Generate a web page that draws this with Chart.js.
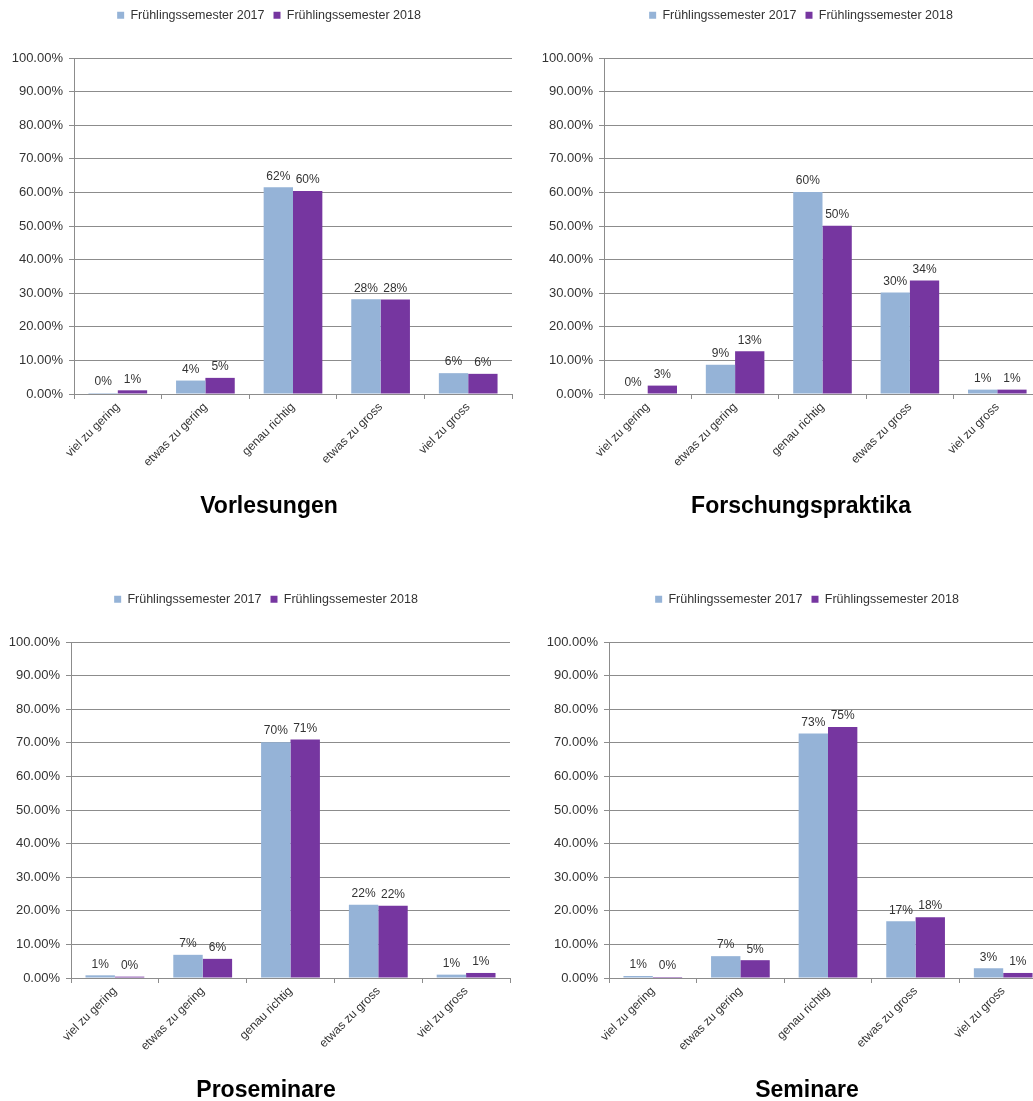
<!DOCTYPE html>
<html>
<head>
<meta charset="utf-8">
<script src="https://cdn.jsdelivr.net/npm/chart.js@4.4.1/dist/chart.umd.min.js"></script>
<style>
  html, body { margin: 0; padding: 0; background: #ffffff; overflow: hidden; width: 1033px; height: 1101px; }
  canvas { position: absolute; }
</style>
</head>
<body>
<canvas id="c1" width="538" height="530" style="left:0px;top:0px"></canvas>
<canvas id="c2" width="538" height="530" style="left:532px;top:0px"></canvas>
<canvas id="c3" width="532" height="530" style="left:0px;top:584px"></canvas>
<canvas id="c4" width="540" height="530" style="left:537px;top:584px"></canvas>
<script>
// ---------- data ----------
const categories = ['viel zu gering', 'etwas zu gering', 'genau richtig', 'etwas zu gross', 'viel zu gross'];
const seriesNames = ['Frühlingssemester 2017', 'Frühlingssemester 2018'];
const chartTitles = ['Vorlesungen', 'Forschungspraktika', 'Proseminare', 'Seminare'];

const vorlesungen2017 = [0.3, 4.0, 61.5, 28.2, 6.2];
const vorlesungen2018 = [1.1, 4.8, 60.4, 28.1, 6.0];
const vorlesungenLabels2017 = ['0%', '4%', '62%', '28%', '6%'];
const vorlesungenLabels2018 = ['1%', '5%', '60%', '28%', '6%'];

const forschung2017 = [0.0, 8.7, 60.1, 30.2, 1.3];
const forschung2018 = [2.5, 12.7, 50.1, 33.8, 1.3];
const forschungLabels2017 = ['0%', '9%', '60%', '30%', '1%'];
const forschungLabels2018 = ['3%', '13%', '50%', '34%', '1%'];

const proseminare2017 = [0.8, 6.9, 70.2, 21.8, 1.0];
const proseminare2018 = [0.4, 5.7, 71.0, 21.5, 1.5];
const proseminareLabels2017 = ['1%', '7%', '70%', '22%', '1%'];
const proseminareLabels2018 = ['0%', '6%', '71%', '22%', '1%'];

const seminare2017 = [0.6, 6.5, 72.8, 16.9, 2.9];
const seminare2018 = [0.3, 5.3, 74.7, 18.1, 1.5];
const seminareLabels2017 = ['1%', '7%', '73%', '17%', '3%'];
const seminareLabels2018 = ['0%', '5%', '75%', '18%', '1%'];

// ---------- styling ----------
const FONT = '"Liberation Sans", Arial, sans-serif';
const COLOR_2017 = '#95B3D7';
const COLOR_2018 = '#7636A0';
const GRID = '#8c8c8c';
const TEXT = '#333333';

const legendGap = {
  id: 'legendGap',
  afterInit(chart) {
    const lg = chart.legend;
    if (!lg) return;
    const fit = lg.fit;
    lg.fit = function () { fit.call(this); this.height += 26.5; };
  }
};

const valueLabels = {
  id: 'valueLabels',
  afterDatasetsDraw(chart, args, opts) {
    const ctx = chart.ctx;
    ctx.save();
    ctx.font = '12px ' + FONT;
    ctx.fillStyle = TEXT;
    ctx.textAlign = 'center';
    ctx.textBaseline = 'bottom';
    chart.data.datasets.forEach((ds, di) => {
      const meta = chart.getDatasetMeta(di);
      const labels = opts.labels[di];
      meta.data.forEach((bar, i) => {
        ctx.fillText(labels[i], bar.x, bar.y - 5);
      });
    });
    ctx.restore();
  }
};

function makeChart(id, title, d2017, d2018, l2017, l2018, yWidth, padRight) {
  return new Chart(document.getElementById(id), {
    type: 'bar',
    data: {
      labels: categories,
      datasets: [
        { label: seriesNames[0], data: d2017, backgroundColor: COLOR_2017, borderWidth: 0,
          categoryPercentage: 0.67, barPercentage: 1.0 },
        { label: seriesNames[1], data: d2018, backgroundColor: COLOR_2018, borderWidth: 0,
          categoryPercentage: 0.67, barPercentage: 1.0 }
      ]
    },
    options: {
      responsive: false,
      animation: false,
      devicePixelRatio: 1,
      layout: { padding: 0 },
      plugins: {
        legend: {
          position: 'top',
          labels: { boxWidth: 7, boxHeight: 7, padding: 9, color: TEXT, font: { family: FONT, size: 12.5 } }
        },
        title: {
          display: true, text: title, position: 'bottom', color: '#000000',
          font: { family: FONT, size: 23, weight: 'bold', lineHeight: 1.2 },
          padding: { top: 0, bottom: 10 }
        },
        tooltip: { enabled: false },
        valueLabels: { labels: [l2017, l2018] }
      },
      scales: {
        x: {
          offset: true,
          grid: { display: true, drawOnChartArea: false, drawTicks: true, tickLength: 5, color: GRID, offset: true },
          border: { display: true, color: GRID, width: 1 },
          ticks: { color: TEXT, font: { family: FONT, size: 12 }, minRotation: 45, maxRotation: 45, padding: 1, autoSkip: false },
          afterFit: s => { s.height = 98.4; }
        },
        y: {
          min: 0, max: 100,
          grid: { color: GRID, lineWidth: 1, drawTicks: true, tickLength: 5 },
          border: { display: true, color: GRID, width: 1 },
          ticks: { stepSize: 10, color: TEXT, font: { family: FONT, size: 13 }, padding: 6,
                   callback: v => v.toFixed(2) + '%' },
          afterFit: s => { s.width = yWidth; }
        },
        pad: {
          type: 'linear', position: 'right', display: true,
          grid: { display: false, drawTicks: false },
          border: { display: false },
          ticks: { display: false },
          afterFit: s => { s.width = padRight; }
        }
      }
    },
    plugins: [legendGap, valueLabels]
  });
}

makeChart('c1', chartTitles[0], vorlesungen2017, vorlesungen2018, vorlesungenLabels2017, vorlesungenLabels2018, 74, 26);
makeChart('c2', chartTitles[1], forschung2017, forschung2018, forschungLabels2017, forschungLabels2018, 72, 29);
makeChart('c3', chartTitles[2], proseminare2017, proseminare2018, proseminareLabels2017, proseminareLabels2018, 71, 22);
makeChart('c4', chartTitles[3], seminare2017, seminare2018, seminareLabels2017, seminareLabels2018, 72, 30);
</script>
</body>
</html>
